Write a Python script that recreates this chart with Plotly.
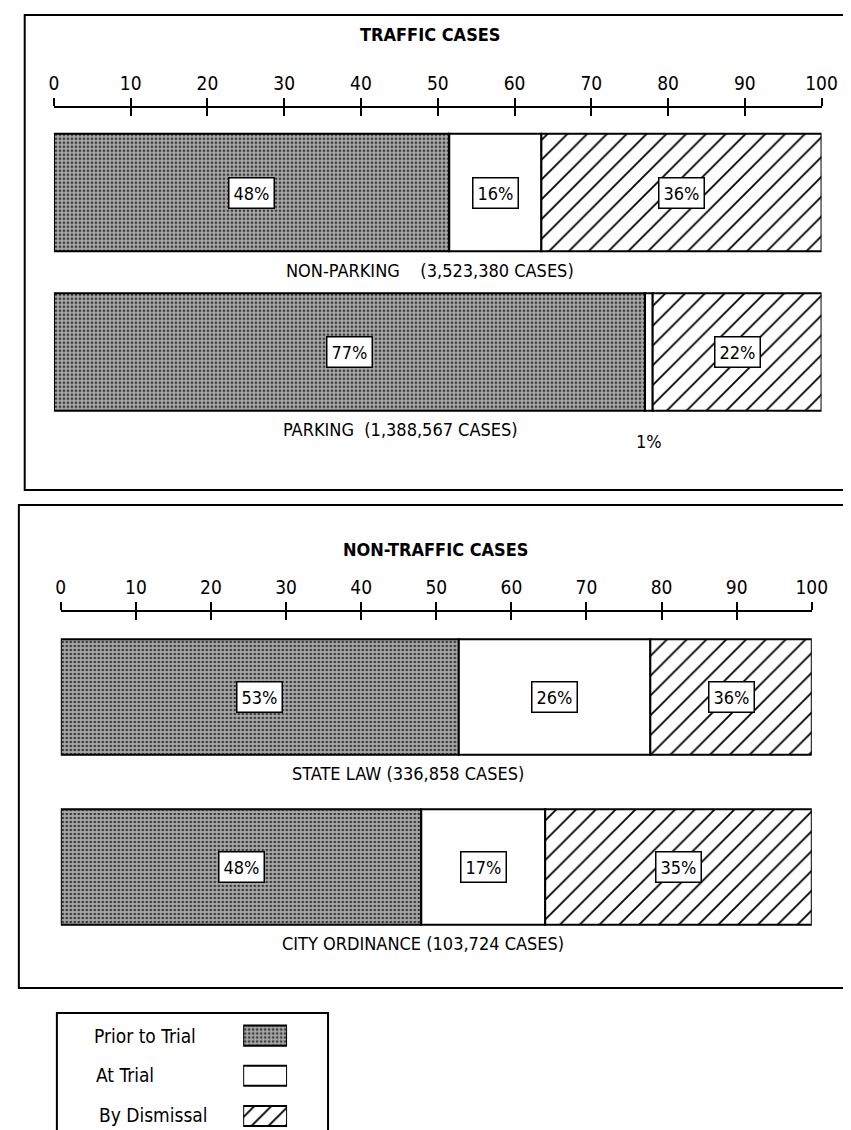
import plotly.graph_objects as go

W, H = 851, 1130

# ---------------- data ----------------
panel_titles = ["TRAFFIC CASES", "NON-TRAFFIC CASES"]
tick_values = [0, 10, 20, 30, 40, 50, 60, 70, 80, 90, 100]
tick_labels = ["0", "10", "20", "30", "40", "50", "60", "70", "80", "90", "100"]

series_names = ["Prior to Trial", "At Trial", "By Dismissal"]

traffic_categories = ["NON-PARKING", "PARKING"]
traffic_cases = ["3,523,380", "1,388,567"]
traffic_prior = [51.5, 77]
traffic_trial = [12, 1]
traffic_dismissal = [36.5, 22]
traffic_prior_labels = ["48%", "77%"]
traffic_trial_labels = ["16%", "1%"]
traffic_dismissal_labels = ["36%", "22%"]

nontraffic_categories = ["STATE LAW", "CITY ORDINANCE"]
nontraffic_cases = ["336,858", "103,724"]
nontraffic_prior = [53, 48]
nontraffic_trial = [25.5, 16.5]
nontraffic_dismissal = [21.5, 35.5]
nontraffic_prior_labels = ["53%", "48%"]
nontraffic_trial_labels = ["26%", "17%"]
nontraffic_dismissal_labels = ["36%", "35%"]

# ---------------- styles ----------------
FONT = "Liberation Sans Narrow, Arial Narrow, DejaVu Sans Condensed, sans-serif"
styles = {
    "Prior to Trial": dict(color="#a8a8a8", pattern=dict(shape=".", fgcolor="#3a3a3a", fgopacity=1,
                                                          size=4, solidity=0.35, fillmode="overlay")),
    "At Trial": dict(color="white", pattern=dict(shape="")),
    "By Dismissal": dict(color="white", pattern=dict(shape="/", fgcolor="black", fgopacity=1,
                                                      size=14, solidity=0.13, fillmode="overlay")),
}


def px_x(p):
    return p / W


def px_y(p):
    return 1 - p / H


fig = go.Figure()


def add_panel(idx, xdom, ydom, axis_py, bar_width, cats, cases, prior, trial, dismissal,
              prior_lab, trial_lab, dis_lab, cat_label_x):
    xa = "x" if idx == 1 else f"x{idx}"
    ya = "y" if idx == 1 else f"y{idx}"
    xa_over = f"x{idx + 10}"
    rows = list(range(len(cats)))
    bases = [[0] * len(cats),
             list(prior),
             [p + t for p, t in zip(prior, trial)]]
    vals = [prior, trial, dismissal]
    labs = [prior_lab, trial_lab, dis_lab]
    for s, name in enumerate(series_names):
        st = styles[name]
        fig.add_trace(go.Bar(
            orientation="h", y=rows, x=vals[s], base=bases[s], width=bar_width,
            xaxis=xa, yaxis=ya, name=name, showlegend=False,
            marker=dict(color=st["color"], pattern=st["pattern"],
                        line=dict(color="black", width=2)),
            hoverinfo="skip"))
        for r in rows:
            cx = bases[s][r] + vals[s][r] / 2
            if vals[s][r] < 5:
                fig.add_annotation(x=cx, y=r + bar_width / 2, xref=xa, yref=ya,
                                   xanchor="center", yanchor="middle",
                                   yshift=-31, text=labs[s][r], showarrow=False,
                                   font=dict(family=FONT, size=18, color="black"))
            else:
                fig.add_annotation(x=cx, y=r, xref=xa, yref=ya, text=labs[s][r],
                                   xanchor="center", yanchor="middle",
                                   showarrow=False, bgcolor="white", bordercolor="black",
                                   borderwidth=1.5, borderpad=4,
                                   font=dict(family=FONT, size=18, color="black"))
    # dummy trace for overlay tick axis
    fig.add_trace(go.Scatter(x=[None], y=[None], xaxis=xa_over, yaxis=ya,
                             showlegend=False, hoverinfo="skip"))
    axpos = px_y(axis_py)
    common = dict(range=[0, 100], domain=xdom, side="top", anchor="free", position=axpos,
                  tickmode="array", tickvals=tick_values, showgrid=False, zeroline=False,
                  showline=True, linecolor="black", linewidth=2,
                  tickcolor="black", tickwidth=2, ticklen=8)
    fig.layout[("xaxis" if idx == 1 else f"xaxis{idx}")] = dict(
        **common, ticks="outside", ticktext=tick_labels,
        tickfont=dict(family=FONT, size=19, color="black"))
    fig.layout[f"xaxis{idx + 10}"] = dict(**common, ticks="inside", showticklabels=False,
                                         overlaying=xa)
    fig.layout[("yaxis" if idx == 1 else f"yaxis{idx}")] = dict(
        range=[len(cats) - 0.5, -0.5], domain=ydom, anchor=xa, visible=False)
    for r, (c, n) in enumerate(zip(cats, cases)):
        sep = "\u00a0\u00a0\u00a0\u00a0" if r == 0 and idx == 1 else ("\u00a0\u00a0" if idx == 1 else " ")
        fig.add_annotation(x=cat_label_x[r], y=r + bar_width / 2, xref="paper", yref=ya,
                           xanchor="center", yanchor="middle", yshift=-19,
                           showarrow=False, text=f"{c}{sep}({n} CASES)",
                           font=dict(family=FONT, size=18, color="black"))


add_panel(1, [px_x(42), px_x(829)], [px_y(423.75), px_y(104.75)], 99, 0.737,
          traffic_categories, traffic_cases, traffic_prior, traffic_trial, traffic_dismissal,
          traffic_prior_labels, traffic_trial_labels, traffic_dismissal_labels,
          [px_x(428), px_x(397)])
add_panel(2, [px_x(49), px_x(819)], [px_y(944), px_y(604)], 602.5, 0.68,
          nontraffic_categories, nontraffic_cases, nontraffic_prior, nontraffic_trial,
          nontraffic_dismissal, nontraffic_prior_labels, nontraffic_trial_labels,
          nontraffic_dismissal_labels,
          [px_x(405), px_x(420)])

# panel titles
fig.add_annotation(x=px_x(428), y=px_y(27), xref="paper", yref="paper", showarrow=False,
                   xanchor="center", yanchor="middle",
                   text=f"<b>{panel_titles[0]}</b>", font=dict(family=FONT, size=18, color="black"))
fig.add_annotation(x=px_x(433), y=px_y(541), xref="paper", yref="paper", showarrow=False,
                   xanchor="center", yanchor="middle",
                   text=f"<b>{panel_titles[1]}</b>", font=dict(family=FONT, size=18, color="black"))

# panel frames
fig.add_shape(type="rect", xref="paper", yref="paper", x0=px_x(12), x1=1.02,
              y0=px_y(482), y1=px_y(7), line=dict(color="black", width=2))
fig.add_shape(type="rect", xref="paper", yref="paper", x0=px_x(6), x1=1.02,
              y0=px_y(980), y1=px_y(497), line=dict(color="black", width=2))

# legend swatches (custom legend: text left, swatch right)
for i, name in enumerate(series_names):
    st = dict(styles[name])
    pat = dict(st["pattern"])
    if name == "By Dismissal":
        pat["size"] = 12
        pat["solidity"] = 0.16
    fig.add_trace(go.Bar(orientation="h", y=[i], x=[1], base=[0], width=0.5,
                         xaxis="x5", yaxis="y5", showlegend=False, hoverinfo="skip",
                         marker=dict(color=st["color"], pattern=pat,
                                     line=dict(color="black", width=2))))
fig.layout["xaxis5"] = dict(domain=[px_x(236), px_x(281)], range=[0, 1], visible=False,
                            anchor="y5")
fig.layout["yaxis5"] = dict(domain=[px_y(1128), px_y(1007.5)], range=[2.5, -0.5],
                            visible=False, anchor="x5")
leg_text_pos = [(81, 1028), (83, 1067), (86, 1107)]
for name, (lx, ly) in zip(series_names, leg_text_pos):
    fig.add_annotation(x=px_x(lx), y=px_y(ly), xref="paper", yref="paper", xanchor="left",
                       yanchor="middle",
                       showarrow=False, text=name, font=dict(family=FONT, size=19, color="black"))
fig.add_shape(type="rect", xref="paper", yref="paper", x0=px_x(45), x1=px_x(323),
              y0=-0.05, y1=px_y(1005), line=dict(color="black", width=2))

fig.update_layout(width=W, height=H, margin=dict(l=0, r=0, t=0, b=0),
                  paper_bgcolor="white", plot_bgcolor="rgba(0,0,0,0)",
                  barmode="overlay", showlegend=False)

fig.write_html("out.html")
